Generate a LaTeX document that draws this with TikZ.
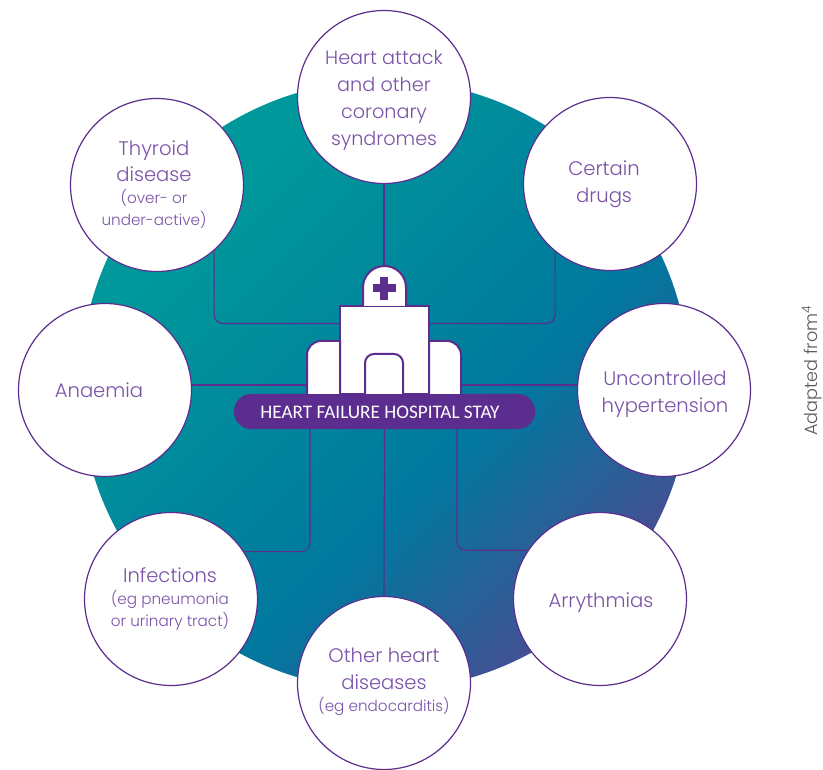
\documentclass[tikz,border=0pt]{standalone}
\usepackage{fontspec}
\setmainfont{Poppins Light}
\newfontfamily\bannerfont{Carlito}
\usetikzlibrary{calc}
\definecolor{hpurple}{HTML}{5B2D8E}
\definecolor{tpurple}{HTML}{7A52A8}
\definecolor{gTeal}{HTML}{00989A}
\definecolor{gBlue}{HTML}{00789E}
\definecolor{gPurple}{HTML}{4A4C92}
\pgfdeclarehorizontalshading{discgrad}{100bp}{color(0bp)=(gTeal); color(30bp)=(gTeal); color(58bp)=(gBlue); color(76bp)=(gPurple); color(100bp)=(gPurple)}
\tikzset{
  x=1pt,y=-1pt,
  cause/.style={circle,draw=hpurple,line width=1.2pt,fill=white,minimum size=173pt,inner sep=0pt},
  causetext/.style={text=tpurple,align=center,font=\fontsize{19.6}{27}\selectfont},
  link/.style={draw=hpurple,line width=1.1pt,rounded corners=9pt},
  wall/.style={draw=hpurple,line width=2pt,fill=white},
}
\newcommand{\smalltxt}[1]{{\fontsize{15.2}{21}\selectfont #1}}
\begin{document}
\begin{tikzpicture}
\useasboundingbox (0,0) rectangle (823,770);
\shade[shading=discgrad,shading angle=-45] (385,385) circle (305);
% hospital
\node[wall,rectangle,minimum width=89pt,minimum height=88pt,inner sep=0pt] (tower) at (384.5,350.5) {};
% causes
\node[cause] (top) at (384,97) {};
\node[cause] (thy) at (157,185) {};
\node[cause] (drg) at (610,184) {};
\node[cause] (ana) at (105,390) {};
\node[cause] (hyp) at (664,390) {};
\node[cause] (inf) at (171,599) {};
\node[cause] (arr) at (600,599) {};
\node[cause] (oth) at (384,683) {};
\node[fill=hpurple,rounded corners=17pt,minimum width=301pt,minimum height=35pt,inner sep=0pt] (ban) at (384.5,411.5) {};
% connectors
\draw[link] (top.south) -- (384,266);
\draw[link] (thy.-49) |- ([yshift=27pt]tower.west);
\draw[link] (drg.-129.2) |- ([yshift=27pt]tower.east);
\draw[link] ($(ana.east)+(0,-5)$) -- ($(tower.west)+(-33,34.5)$);
\draw[link] ($(hyp.west)+(0,-5)$) -- ($(tower.east)+(32,34.5)$);
\draw[link] (inf.33.5) -| (ban.south -| 310,0);
\draw[link] (arr.146.5) -| (ban.south -| 457,0);
\draw[link] (ban.south) -- (oth.north);
% hospital details
\draw[wall] (307,394) [rounded corners=14pt]-- (307,341) [sharp corners]-- (340,341) -- (340,394);
\draw[wall] (461,394) [rounded corners=14pt]-- (461,341) [sharp corners]-- (429,341) -- (429,394);
\draw[wall] (363,306) -- (363,287.5) arc[start angle=180,end angle=360,radius=21.5] -- (406,306);
\draw[wall,rounded corners=9pt] (365,394) -- (365,354) -- (403,354) -- (403,394);
\fill[hpurple] (380,277) rectangle (388,300);
\fill[hpurple] (373,284.5) rectangle (396,292.5);
\node[text=white,font=\bannerfont\fontsize{19.2}{20}\selectfont,anchor=center] (bantext) at (380,412.5) {HEART FAILURE HOSPITAL STAY};
% texts
\node[causetext,font=\fontsize{19.2}{27}\selectfont] (t1) at (384,100) {Heart attack\\and other\\coronary\\syndromes};
\node[causetext] (t2) at (154,184.5) {Thyroid\\[-1pt]disease\\[-5pt]\smalltxt{(over- or}\\[-5pt]\smalltxt{under-active)}};
\node[causetext] (t3) at (604,184) {Certain\\drugs};
\node[causetext] (t4) at (99,390) {Anaemia};
\node[causetext] (t5) at (665,394) {Uncontrolled\\hypertension};
\node[causetext] (t6) at (170,599) {Infections\\[-5pt]\smalltxt{(eg pneumonia}\\[-5pt]\smalltxt{or urinary tract)}};
\node[causetext] (t7) at (601,603) {Arrythmias};
\node[causetext] (t8) at (384,682) {Other heart\\diseases\\[-5pt]\smalltxt{(eg endocarditis)}};
\node[rotate=90,text=black!65,font=\fontsize{17.6}{18}\selectfont,anchor=west,inner sep=0pt] (note) at (812,436) {Adapted from\textsuperscript{4}};
\end{tikzpicture}
\end{document}
